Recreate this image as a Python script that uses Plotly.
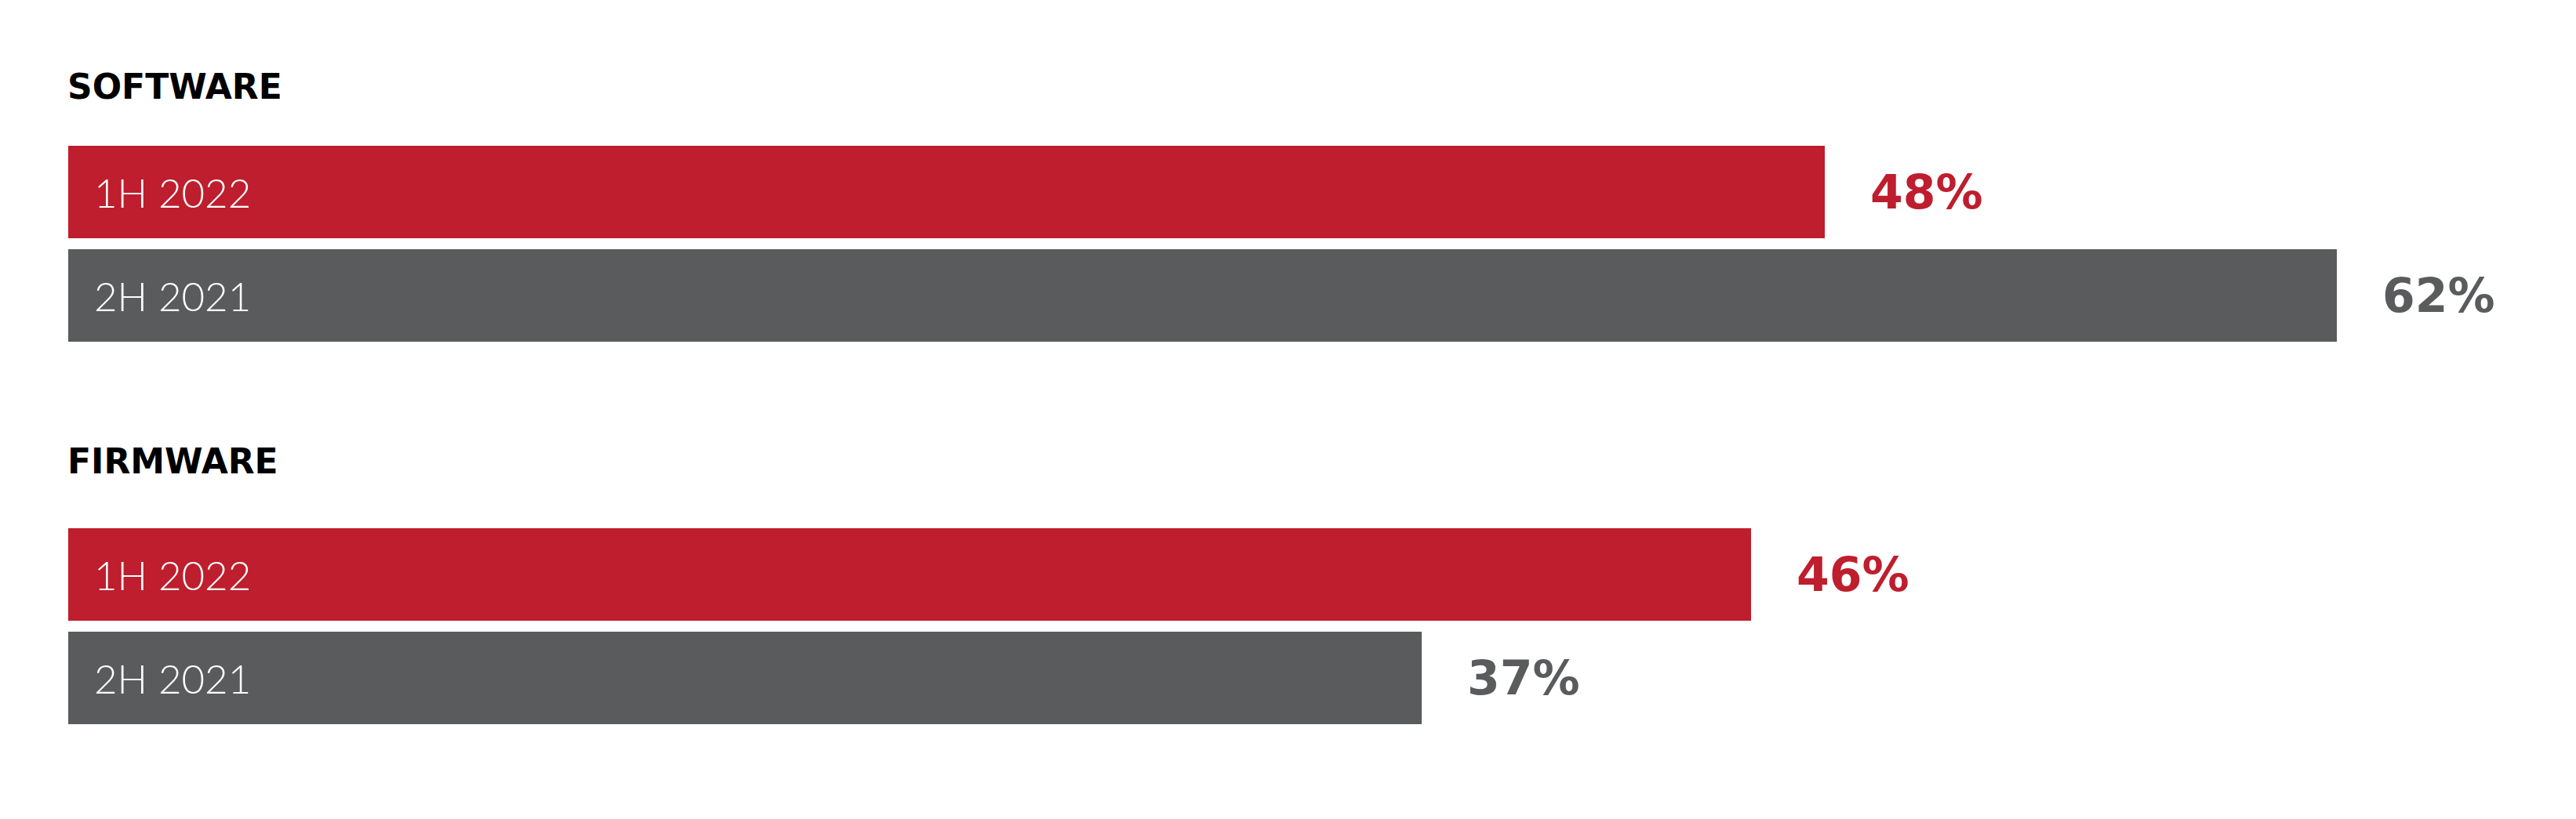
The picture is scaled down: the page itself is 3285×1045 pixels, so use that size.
import plotly.graph_objects as go

# ---- data ----
groups = ["SOFTWARE", "FIRMWARE"]
periods = ["1H 2022", "2H 2021"]
software = [48, 62]
firmware = [46, 37]
values_by_group = [software, firmware]
value_labels = [["48%", "62%"], ["46%", "37%"]]

# ---- styling / layout constants ----
W, H = 3285, 1045
page_offset = 8       # default page body margin
bar_colors = {"1H 2022": "#BE1E2D", "2H 2021": "#5A5B5D"}
x0_px = 87 - page_offset   # pixel position of zero
px_per_unit = 46.66        # pixels per percentage point
first_center = 245 - page_offset
group_step = 488
bar_step = 132
bar_height = 118
title_y = [110 - page_offset, 588 - page_offset]

BOLD = "DejaVu Sans"
LIGHT = "Lato"

fig = go.Figure()

for j, p in enumerate(periods):
    ys = [first_center + group_step * g + bar_step * j for g in range(len(groups))]
    xs = [values_by_group[g][j] for g in range(len(groups))]
    fig.add_trace(go.Bar(
        x=xs, y=ys, orientation="h", width=bar_height,
        marker=dict(color=bar_colors[p], line=dict(width=0)),
        showlegend=False, hoverinfo="skip",
    ))
    for g in range(len(groups)):
        # period label inside bar
        fig.add_annotation(
            x=0, y=ys[g], xref="x", yref="y", text=p, showarrow=False,
            xanchor="left", yanchor="middle", xshift=31,
            font=dict(family=LIGHT, size=51, color="white", weight=300),
        )
        # value label outside bar
        fig.add_annotation(
            x=xs[g], y=ys[g], xref="x", yref="y", text=value_labels[g][j],
            showarrow=False, xanchor="left", yanchor="middle", xshift=56,
            font=dict(family=BOLD, size=60, color=bar_colors[p], weight="bold"),
        )

for g, name in enumerate(groups):
    fig.add_annotation(
        x=0, y=title_y[g], xref="x", yref="y", text=name, showarrow=False,
        xanchor="left", yanchor="middle", xshift=-3,
        font=dict(family=BOLD, size=44, color="#000000", weight="bold"),
    )

fig.update_layout(
    width=W, height=H,
    margin=dict(l=0, r=0, t=0, b=0),
    paper_bgcolor="white", plot_bgcolor="white",
    xaxis=dict(range=[-x0_px / px_per_unit, (W - x0_px) / px_per_unit],
               visible=False, fixedrange=True),
    yaxis=dict(range=[H, 0], visible=False, fixedrange=True),
    bargap=0,
)

fig.write_html("out.html")
